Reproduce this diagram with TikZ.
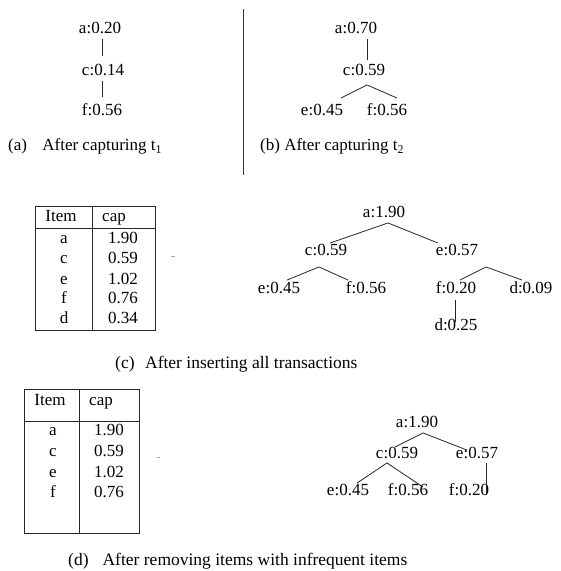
\documentclass[tikz,border=0pt]{standalone}
\usepackage{fontspec}
\setmainfont{Liberation Serif}
\begin{document}
\begin{tikzpicture}[x=1pt,y=-1pt,
  lbl/.style={inner sep=0pt,text height=11.5pt,text depth=0pt,font=\fontsize{17}{20}\selectfont},
  captxt/.style={inner sep=0pt,anchor=west,text height=11.5pt,text depth=0pt,font=\fontsize{17}{20}\selectfont},
  bigcap/.style={captxt,font=\fontsize{17.5}{20}\selectfont},
  edge/.style={line width=0.8pt,black!85},
  tab/.style={line width=0.9pt,black!85}]
\useasboundingbox (0,0) rectangle (561,571);
% ---- (a)
\node[lbl] (a1) at (100,28) {a:0.20};
\node[lbl] (c1) at (103,70) {c:0.14};
\node[lbl] (f1) at (102,110) {f:0.56};
\draw[edge] ([xshift=2pt,yshift=-5pt]a1.south) -- ([xshift=-1pt,yshift=8pt]c1.north);
\draw[edge] ([xshift=-1pt,yshift=-5pt]c1.south) -- ([yshift=7pt]f1.north);
\node[captxt] (capa) at (8,145) {(a)\hspace{0.9em}After capturing t\textsubscript{1}};
% divider
\coordinate (d1) at (243,9);
\coordinate (d2) at (243,175);
\draw[line width=0.9pt,black!80] (d1) -- (d2);
% ---- (b)
\node[lbl] (a2) at (356,28) {a:0.70};
\node[lbl] (c2) at (364,70) {c:0.59};
\node[lbl] (e2) at (322,110) {e:0.45};
\node[lbl] (f2) at (387,110) {f:0.56};
\draw[edge] ([xshift=11pt,yshift=-5pt]a2.south) -- ([xshift=3pt,yshift=4pt]c2.north);
\coordinate (pb) at ([xshift=3pt,yshift=-9pt]c2.south);
\draw[edge] ([xshift=19pt,yshift=6pt]e2.north) -- (pb) -- ([xshift=10pt,yshift=6pt]f2.north);
\node[captxt] (capb) at (260,145) {(b) After capturing t\textsubscript{2}};
% ---- (c) table
\draw[tab] (35,206) rectangle (155,330);
\draw[tab] (92,206) -- (92,330);
\draw[tab] (35,228) -- (155,228);
\node[lbl] (ti1) at (61,216) {Item};
\node[lbl] (tc1) at (114,216) {cap};
\node[lbl] (r1a) at (64,238) {a};
\node[lbl] (r1c) at (64,258) {c};
\node[lbl] (r1e) at (64,279) {e};
\node[lbl] (r1f) at (64,298) {f};
\node[lbl] (r1d) at (64,318) {d};
\node[lbl] (v1a) at (123,238) {1.90};
\node[lbl] (v1c) at (123,258) {0.59};
\node[lbl] (v1e) at (123,279) {1.02};
\node[lbl] (v1f) at (123,298) {0.76};
\node[lbl] (v1d) at (123,318) {0.34};
\fill[black!35] (171,255.5) rectangle (175,256.5);
% ---- (c) tree
\node[lbl] (a3) at (384,212) {a:1.90};
\node[lbl] (c3) at (326,250) {c:0.59};
\node[lbl] (e3) at (457,250) {e:0.57};
\node[lbl] (e4) at (279,288) {e:0.45};
\node[lbl] (f4) at (366,288) {f:0.56};
\node[lbl] (f5) at (456,288) {f:0.20};
\node[lbl] (d5) at (531,288) {d:0.09};
\node[lbl] (d6) at (456,325) {d:0.25};
\coordinate (pc1) at ([xshift=4pt,yshift=-5pt]a3.south);
\draw[edge] ([xshift=4pt,yshift=1pt]c3.north) -- (pc1) -- ([xshift=-19pt,yshift=1pt]e3.north);
\coordinate (pc2) at ([xshift=-7pt,yshift=-11pt]c3.south);
\draw[edge] ([xshift=8pt,yshift=2pt]e4.north) -- (pc2) -- ([xshift=-18pt,yshift=2pt]f4.north);
\coordinate (pc3) at ([xshift=29pt,yshift=-11pt]e3.south);
\draw[edge] ([xshift=4pt,yshift=2pt]f5.north) -- (pc3) -- ([xshift=-9pt,yshift=2pt]d5.north);
\draw[edge] ([xshift=-1pt,yshift=-6pt]f5.south) -- ([xshift=-1pt,yshift=-3pt]d6.north);
\node[bigcap] (capc) at (115,363) {(c)\hspace{0.6em}After inserting all transactions};
% ---- (d) table
\draw[tab] (24,389) rectangle (139,533);
\draw[tab] (79,389) -- (79,533);
\draw[tab] (24,421) -- (139,421);
\node[lbl] (ti2) at (50,400) {Item};
\node[lbl] (tc2) at (101,400) {cap};
\node[lbl] (r2a) at (53,430) {a};
\node[lbl] (r2c) at (53,451) {c};
\node[lbl] (r2e) at (53,472) {e};
\node[lbl] (r2f) at (53,492) {f};
\node[lbl] (v2a) at (109,430) {1.90};
\node[lbl] (v2c) at (109,451) {0.59};
\node[lbl] (v2e) at (109,472) {1.02};
\node[lbl] (v2f) at (109,492) {0.76};
\fill[black!35] (157,456.5) rectangle (160,457.5);
% ---- (d) tree
\node[lbl] (a7) at (417,422) {a:1.90};
\node[lbl] (c7) at (397,453) {c:0.59};
\node[lbl] (e7) at (477,453) {e:0.57};
\node[lbl] (e8) at (348,490) {e:0.45};
\node[lbl] (f8) at (408,490) {f:0.56};
\node[lbl] (f9) at (469,490) {f:0.20};
\coordinate (pd1) at ([xshift=6pt,yshift=-5pt]a7.south);
\draw[edge] ([xshift=-2pt]c7.north) -- (pd1) -- ([xshift=-10pt,yshift=-3pt]e7.north);
\coordinate (pd2) at ([xshift=-10pt,yshift=-4pt]c7.south);
\draw[edge] ([xshift=9pt,yshift=1pt]e8.north) -- (pd2) -- ([xshift=15pt,yshift=-3pt]f8.north);
\draw[edge] ([xshift=9pt,yshift=-4pt]e7.south) -- ([xshift=17pt,yshift=-5pt]f9.center);
\node[bigcap] (capd) at (68,560) {(d)\hspace{0.8em}After removing items with infrequent items};
\end{tikzpicture}
\end{document}
